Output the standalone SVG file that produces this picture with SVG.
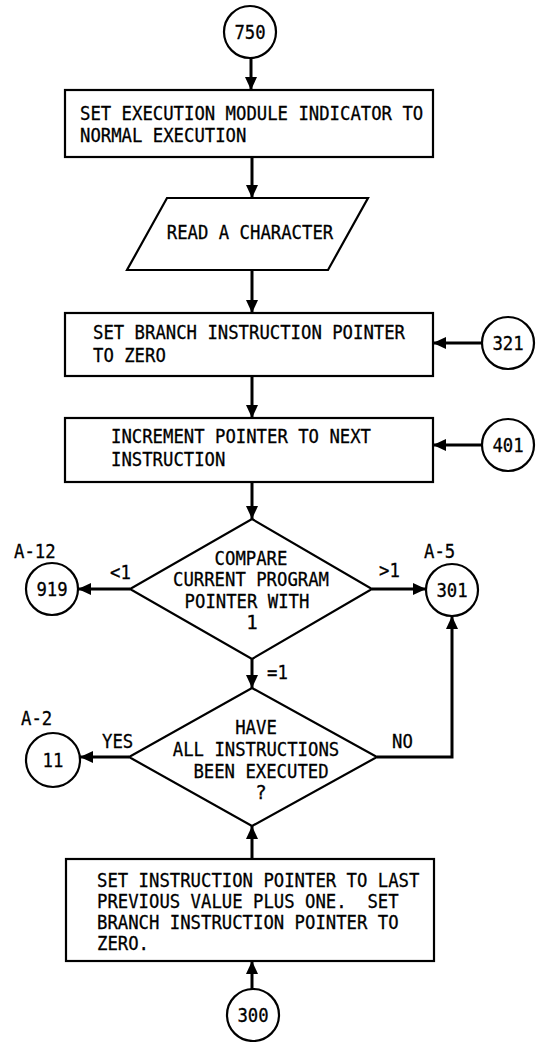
<svg xmlns="http://www.w3.org/2000/svg" width="540" height="1042" viewBox="0 0 540 1042">
<style>
.s{fill:#fff;stroke:#000;stroke-width:2.2}
.t{font-family:"DejaVu Sans Mono","Liberation Mono",monospace;font-size:19px;fill:#000;stroke:#000;stroke-width:0.3;white-space:pre}
.c{text-anchor:middle}
.e{fill:none;stroke:#000;stroke-width:3}
</style>
<defs>
<marker id="ah" markerUnits="userSpaceOnUse" markerWidth="14" markerHeight="14" refX="13" refY="7" orient="auto">
<path d="M0,1 L13,7 L0,13 z" fill="#000"/>
</marker>
</defs>
<rect width="540" height="1042" fill="#fff"/>
<g id="connectors">
<line class="e" x1="251" y1="59" x2="251" y2="90" marker-end="url(#ah)"/>
<line class="e" x1="252" y1="157" x2="252" y2="198" marker-end="url(#ah)"/>
<line class="e" x1="252" y1="270" x2="252" y2="313" marker-end="url(#ah)"/>
<line class="e" x1="252" y1="376" x2="252" y2="418" marker-end="url(#ah)"/>
<line class="e" x1="482" y1="343" x2="433" y2="343" marker-end="url(#ah)"/>
<line class="e" x1="482" y1="445" x2="433" y2="445" marker-end="url(#ah)"/>
<line class="e" x1="252" y1="482" x2="252" y2="519" marker-end="url(#ah)"/>
<line class="e" x1="130" y1="589" x2="78" y2="589" marker-end="url(#ah)"/>
<line class="e" x1="372" y1="589" x2="426" y2="589" marker-end="url(#ah)"/>
<line class="e" x1="252" y1="659" x2="252" y2="688" marker-end="url(#ah)"/>
<line class="e" x1="129" y1="757" x2="80" y2="757" marker-end="url(#ah)"/>
<polyline class="e" points="377,757 452,757 452,616" marker-end="url(#ah)"/>
<line class="e" x1="252" y1="859" x2="252" y2="826" marker-end="url(#ah)"/>
<line class="e" x1="252" y1="989" x2="252" y2="961" marker-end="url(#ah)"/>
<text class="t" x="110" y="579" textLength="20.8" lengthAdjust="spacingAndGlyphs">&lt;1</text>
<text class="t" x="379" y="577" textLength="20.8" lengthAdjust="spacingAndGlyphs">&gt;1</text>
<text class="t" x="267" y="679" textLength="20.8" lengthAdjust="spacingAndGlyphs">=1</text>
<text class="t" x="102" y="748" textLength="31.2" lengthAdjust="spacingAndGlyphs">YES</text>
<text class="t" x="392" y="748" textLength="20.8" lengthAdjust="spacingAndGlyphs">NO</text>
</g>
<g id="n750"><circle class="s" cx="250" cy="32" r="26"/><text class="t c" x="250" y="39" textLength="31.2" lengthAdjust="spacingAndGlyphs">750</text></g>
<g id="box1"><rect class="s" x="65" y="90" width="368" height="67"/>
<text class="t" x="80" y="120" textLength="343.2" lengthAdjust="spacingAndGlyphs">SET EXECUTION MODULE INDICATOR TO</text>
<text class="t" x="80" y="142" textLength="166.4" lengthAdjust="spacingAndGlyphs">NORMAL EXECUTION</text></g>
<g id="read"><polygon class="s" points="167,198 368,198 328,270 127,270"/>
<text class="t c" x="250" y="239" textLength="166.4" lengthAdjust="spacingAndGlyphs">READ A CHARACTER</text></g>
<g id="box3"><rect class="s" x="65" y="313" width="368" height="63"/>
<text class="t" x="93" y="339" textLength="312" lengthAdjust="spacingAndGlyphs">SET BRANCH INSTRUCTION POINTER</text>
<text class="t" x="93" y="362" textLength="72.8" lengthAdjust="spacingAndGlyphs">TO ZERO</text></g>
<g id="n321"><circle class="s" cx="508" cy="343" r="26"/><text class="t c" x="508" y="350" textLength="31.2" lengthAdjust="spacingAndGlyphs">321</text></g>
<g id="box4"><rect class="s" x="65" y="418" width="368" height="64"/>
<text class="t" x="111" y="443" textLength="260" lengthAdjust="spacingAndGlyphs">INCREMENT POINTER TO NEXT</text>
<text class="t" x="111" y="466" textLength="114.4" lengthAdjust="spacingAndGlyphs">INSTRUCTION</text></g>
<g id="n401"><circle class="s" cx="508" cy="445" r="26"/><text class="t c" x="508" y="452" textLength="31.2" lengthAdjust="spacingAndGlyphs">401</text></g>
<g id="d1"><polygon class="s" points="252,519 372,589 252,659 130,589"/>
<text class="t c" x="251" y="565" textLength="72.8" lengthAdjust="spacingAndGlyphs">COMPARE</text>
<text class="t c" x="251" y="586" textLength="156" lengthAdjust="spacingAndGlyphs">CURRENT PROGRAM</text>
<text class="t c" x="247" y="608" textLength="124.8" lengthAdjust="spacingAndGlyphs">POINTER WITH</text>
<text class="t c" x="252" y="629">1</text></g>
<g id="n919"><text class="t" x="14" y="558" textLength="41.6" lengthAdjust="spacingAndGlyphs">A-12</text><circle class="s" cx="52" cy="589" r="26"/><text class="t c" x="52" y="596" textLength="31.2" lengthAdjust="spacingAndGlyphs">919</text></g>
<g id="n301"><text class="t" x="424" y="558" textLength="31.2" lengthAdjust="spacingAndGlyphs">A-5</text><circle class="s" cx="452" cy="590" r="26"/><text class="t c" x="452" y="597" textLength="31.2" lengthAdjust="spacingAndGlyphs">301</text></g>
<g id="d2"><polygon class="s" points="252,688 377,757 252,826 129,757"/>
<text class="t c" x="256" y="734" textLength="41.6" lengthAdjust="spacingAndGlyphs">HAVE</text>
<text class="t c" x="256" y="756" textLength="166.4" lengthAdjust="spacingAndGlyphs">ALL INSTRUCTIONS</text>
<text class="t c" x="261" y="778" textLength="135.2" lengthAdjust="spacingAndGlyphs">BEEN EXECUTED</text>
<text class="t c" x="261" y="799">?</text></g>
<g id="n11"><text class="t" x="21" y="725" textLength="31.2" lengthAdjust="spacingAndGlyphs">A-2</text><circle class="s" cx="53" cy="760" r="27"/><text class="t c" x="53" y="767" textLength="20.8" lengthAdjust="spacingAndGlyphs">11</text></g>
<g id="box5"><rect class="s" x="66" y="859" width="368" height="102"/>
<text class="t" x="97" y="887" textLength="322.4" lengthAdjust="spacingAndGlyphs">SET INSTRUCTION POINTER TO LAST</text>
<text class="t" x="97" y="908" textLength="301.6" lengthAdjust="spacingAndGlyphs">PREVIOUS VALUE PLUS ONE.  SET</text>
<text class="t" x="97" y="929" textLength="301.6" lengthAdjust="spacingAndGlyphs">BRANCH INSTRUCTION POINTER TO</text>
<text class="t" x="97" y="950" textLength="52" lengthAdjust="spacingAndGlyphs">ZERO.</text></g>
<g id="n300"><circle class="s" cx="253" cy="1015" r="26"/><text class="t c" x="253" y="1022" textLength="31.2" lengthAdjust="spacingAndGlyphs">300</text></g>
</svg>
